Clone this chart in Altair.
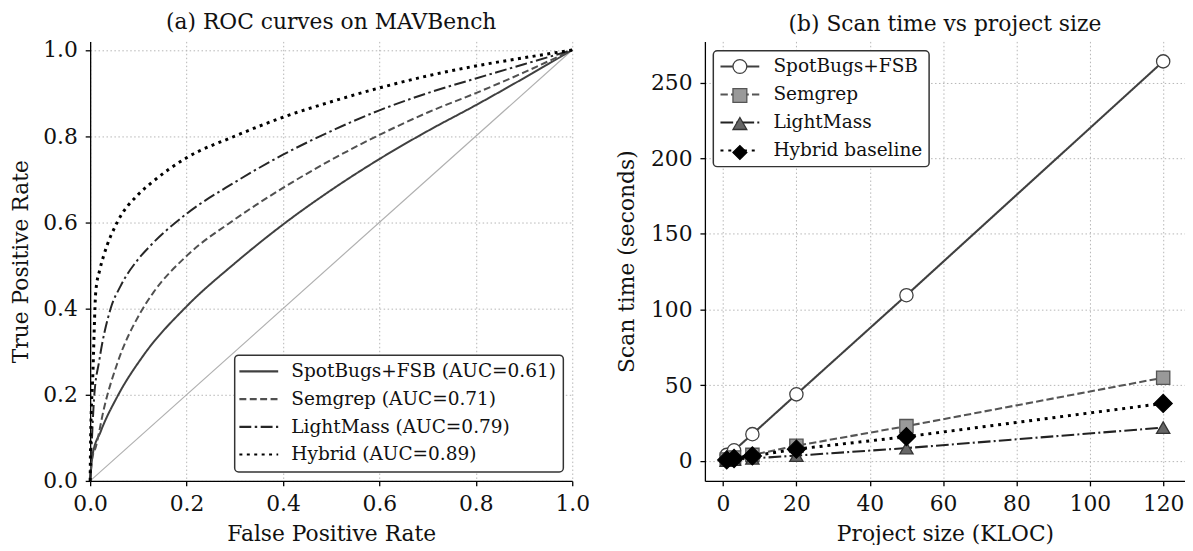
import altair as alt
import pandas as pd

FONT = "DejaVu Serif"

# ---------------- Panel (a): ROC curves ----------------
roc_methods = [
    "SpotBugs+FSB (AUC=0.61)",
    "Semgrep (AUC=0.71)",
    "LightMass (AUC=0.79)",
    "Hybrid (AUC=0.89)",
]
roc_colors = ["#404040", "#505050", "#262626", "#000000"]
roc_dashes = [[1, 0], [7, 3.5], [12, 3.5, 2.5, 3.5], [3, 4.5]]

spot_fpr = [0.0, 0.005, 0.022, 0.056, 0.111, 0.2, 0.3, 0.4, 0.5, 0.6, 0.7, 0.8, 0.9, 1.0]
spot_tpr = [0.0, 0.06, 0.115, 0.195, 0.292, 0.405, 0.505, 0.595, 0.675, 0.747, 0.812, 0.872, 0.935, 1.0]

sem_fpr = [0.0, 0.004, 0.012, 0.029, 0.056, 0.104, 0.131, 0.2, 0.3, 0.4, 0.5, 0.6, 0.7, 0.8, 0.9, 1.0]
sem_tpr = [0.0, 0.05, 0.08, 0.17, 0.272, 0.39, 0.437, 0.522, 0.607, 0.68, 0.745, 0.803, 0.855, 0.9, 0.948, 1.0]

lm_fpr = [0.0, 0.003, 0.008, 0.019, 0.0425, 0.063, 0.1, 0.125, 0.2, 0.3, 0.4, 0.5, 0.6, 0.7, 0.8, 0.9, 1.0]
lm_tpr = [0.0, 0.08, 0.19, 0.28, 0.40, 0.452, 0.515, 0.546, 0.62, 0.693, 0.757, 0.812, 0.86, 0.9, 0.934, 0.967, 1.0]

hy_fpr = [0.0, 0.001, 0.002, 0.005, 0.0117, 0.02, 0.0287, 0.056, 0.1, 0.125, 0.2, 0.3, 0.4, 0.5, 0.6, 0.7, 0.8, 0.9, 1.0]
hy_tpr = [0.0, 0.1, 0.15, 0.23, 0.44, 0.49, 0.525, 0.60, 0.665, 0.69, 0.75, 0.80, 0.844, 0.88, 0.912, 0.94, 0.963, 0.982, 1.0]

diag_fpr = [0.0, 1.0]
diag_tpr = [0.0, 1.0]

# ---------------- Panel (b): scan time ----------------
scan_series = ["SpotBugs+FSB", "Semgrep", "LightMass", "Hybrid baseline"]
scan_colors = ["#404040", "#555555", "#222222", "#000000"]
scan_dashes = [[1, 0], [7.4, 3.2], [12.8, 3.2, 2, 3.2], [3, 4.9]]
scan_shapes = ["circle", "square", "triangle-up", "diamond"]
scan_fills = ["#ffffff", "#999999", "#666666", "#000000"]
scan_edges = ["#404040", "#555555", "#333333", "#000000"]

kloc = [1, 3, 8, 20, 50, 120]
spot_time = [4.0, 7.0, 17.7, 44.0, 109.5, 264.0]
sem_time = [1.0, 2.2, 4.0, 10.0, 23.0, 55.0]
lm_time = [0.3, 0.8, 1.7, 3.5, 8.5, 22.0]
hy_time = [0.7, 1.6, 3.3, 7.8, 16.0, 38.0]

# ---------------- tables ----------------
roc_rows = []
for name, xs, ys in zip(roc_methods, [spot_fpr, sem_fpr, lm_fpr, hy_fpr],
                        [spot_tpr, sem_tpr, lm_tpr, hy_tpr]):
    for i, (a, b) in enumerate(zip(xs, ys)):
        roc_rows.append({"method": name, "fpr": a, "tpr": b, "idx": i})
df_roc = pd.DataFrame(roc_rows)
df_diag = pd.DataFrame({"fpr": diag_fpr, "tpr": diag_tpr})

scan_rows = []
for name, ys in zip(scan_series, [spot_time, sem_time, lm_time, hy_time]):
    for i, (a, b) in enumerate(zip(kloc, ys)):
        scan_rows.append({"series": name, "kloc": a, "time": b, "idx": i})
df_scan = pd.DataFrame(scan_rows)
marker_domain = [s + " " for s in scan_series]

# ---------------- panel (a) ----------------
x_a = alt.X("fpr:Q", scale=alt.Scale(domain=[0, 1], nice=False, zero=False),
            axis=alt.Axis(values=[0, 0.2, 0.4, 0.6, 0.8, 1.0], format=".1f",
                          title="False Positive Rate"))
y_a = alt.Y("tpr:Q", scale=alt.Scale(domain=[0, 1.02], nice=False, zero=False),
            axis=alt.Axis(values=[0, 0.2, 0.4, 0.6, 0.8, 1.0], format=".1f",
                          title="True Positive Rate", titlePadding=10))

roc_legend = alt.Legend(
    title=None, orient="bottom-right", offset=9,
    symbolType="M-2.8,0H2.8", symbolSize=196, symbolStrokeWidth=2.2,
    symbolOffset=8, labelOffset=23.5, padding=7, rowPadding=8,
    labelFontSize=18.7, labelFont=FONT, labelColor="#111111", labelLimit=400,
    strokeColor="#333333", fillColor="#ffffff", cornerRadius=4,
)

diag = alt.Chart(df_diag).mark_line(color="#b0b0b0", strokeWidth=1.2).encode(x=x_a, y=y_a)
roc = alt.Chart(df_roc).mark_line(strokeCap="butt", interpolate="monotone").encode(
    x=x_a, y=y_a, order="idx:Q",
    stroke=alt.Stroke("method:N", scale=alt.Scale(domain=roc_methods, range=roc_colors),
                      legend=roc_legend),
    strokeDash=alt.StrokeDash("method:N", scale=alt.Scale(domain=roc_methods, range=roc_dashes),
                              legend=roc_legend),
    strokeWidth=alt.condition(alt.datum.method == roc_methods[3], alt.value(3), alt.value(2)),
)
left = alt.layer(diag, roc).properties(
    width=487, height=444,
    title=alt.TitleParams("(a) ROC curves on MAVBench", font=FONT, fontSize=22,
                          fontWeight="normal", color="#111111", frame="group", offset=5),
)

# ---------------- panel (b) ----------------
x_b = alt.X("kloc:Q", scale=alt.Scale(domain=[-4.95, 125.95], nice=False, zero=False),
            axis=alt.Axis(values=[0, 20, 40, 60, 80, 100, 120], format="d",
                          title="Project size (KLOC)"))
y_b = alt.Y("time:Q", scale=alt.Scale(domain=[-13.2, 277.2], nice=False, zero=False),
            axis=alt.Axis(values=[0, 50, 100, 150, 200, 250], format="d",
                          title="Scan time (seconds)"))

leg_common = dict(title=None, orient="none", legendX=8.5, legendY=9.5,
                  symbolSize=196, symbolOffset=11, labelOffset=24.5, padding=6.5,
                  rowPadding=8.3, labelFontSize=18.7, labelFont=FONT, labelLimit=400)
leg_lines = alt.Legend(symbolType="M-2.8,0H2.8", symbolStrokeWidth=2.2,
                       labelColor="#111111", strokeColor="#333333",
                       fillColor="#ffffff", cornerRadius=4, zindex=1, **leg_common)
leg_marks = alt.Legend(symbolStrokeWidth=1.3, symbolOpacity=1, labelOpacity=0,
                       zindex=2, **leg_common)

scan_lines = alt.Chart(df_scan).mark_line(strokeCap="butt").encode(
    x=x_b, y=y_b, order="idx:Q",
    stroke=alt.Stroke("series:N", scale=alt.Scale(domain=scan_series, range=scan_colors),
                      legend=leg_lines),
    strokeDash=alt.StrokeDash("series:N", scale=alt.Scale(domain=scan_series, range=scan_dashes),
                              legend=leg_lines),
    strokeWidth=alt.condition(alt.datum.series == "Hybrid baseline", alt.value(3),
                              alt.value(2.1)),
)
scan_pts = alt.Chart(df_scan).transform_calculate(marker="datum.series + ' '").mark_point(
    filled=True, opacity=1, strokeWidth=1.3
).encode(
    x=x_b, y=y_b,
    shape=alt.Shape("marker:N", scale=alt.Scale(domain=marker_domain, range=scan_shapes),
                    legend=leg_marks),
    fill=alt.Fill("marker:N", scale=alt.Scale(domain=marker_domain, range=scan_fills),
                  legend=leg_marks),
    stroke=alt.Stroke("marker:N", scale=alt.Scale(domain=marker_domain, range=scan_edges),
                      legend=leg_marks),
    size=alt.condition(alt.datum.series == "Hybrid baseline", alt.value(330), alt.value(180)),
)
right = alt.layer(scan_lines, scan_pts).resolve_scale(
    stroke="independent", strokeDash="independent", shape="independent", fill="independent"
).properties(
    width=485, height=444,
    title=alt.TitleParams("(b) Scan time vs project size", font=FONT, fontSize=22,
                          fontWeight="normal", color="#111111", frame="group", offset=5),
)

chart = alt.hconcat(left, right, spacing=26).resolve_scale(
    stroke="independent", strokeDash="independent", shape="independent", fill="independent"
).resolve_legend(
    stroke="independent", strokeDash="independent", shape="independent", fill="independent"
).properties(
    padding={"left": 2, "top": 0, "right": 0, "bottom": -2}, background="white"
).configure_view(stroke=None).configure_axis(
    domainColor="#000000", domainWidth=1.3, tickColor="#000000", tickWidth=1.3, tickSize=5,
    labelFont=FONT, labelFontSize=22, labelColor="#111111",
    labelFlush=False, labelOverlap=False,
    titleFont=FONT, titleFontSize=22, titleFontWeight="normal", titleColor="#111111",
    gridColor="#b5b5b5", gridDash=[1.5, 2.5], gridWidth=1,
).configure_axisX(labelPadding=8, titlePadding=9).configure_axisY(
    labelPadding=8, titlePadding=12
).configure_legend(strokeWidth=1.5)

chart.save("out.html", embed_options={"renderer": "svg", "actions": False})
